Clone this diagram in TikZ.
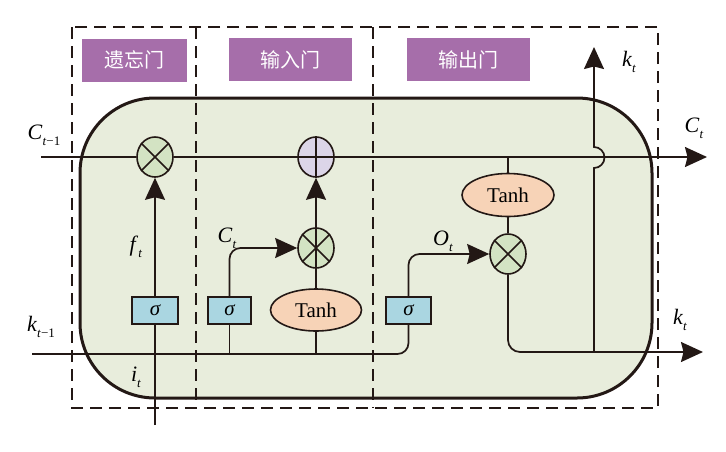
\documentclass[tikz,border=0pt]{standalone}
\usepackage{fontspec}
\setmainfont{Liberation Serif}
\newfontfamily\cjk{Noto Sans CJK SC}
\usetikzlibrary{shapes.geometric,arrows.meta,calc}
\definecolor{ink}{HTML}{231815}
\definecolor{gatepurple}{HTML}{A66EAA}
\definecolor{cellgreen}{HTML}{E8EDDC}
\definecolor{opgreen}{HTML}{D3E3C3}
\definecolor{oppurple}{HTML}{DCD5E8}
\definecolor{tanhfill}{HTML}{F7D3B7}
\definecolor{sigfill}{HTML}{AAD6E1}
\newcommand{\vlab}[2]{\textit{#1}\raisebox{-0.55ex}{\fontsize{13}{13}\selectfont #2}}
\begin{document}
\begin{tikzpicture}[x=1pt,y=-1pt,
  line/.style={draw=ink,line width=1.7pt},
  arr/.style={line,-{Stealth[length=22pt,width=20pt,inset=2.5pt]}},
  dashbox/.style={draw=ink,line width=1.2pt,dash pattern=on 12pt off 7pt},
  gatelabel/.style={fill=gatepurple,text=white,font=\cjk\fontsize{20}{20}\selectfont,minimum height=43pt,inner sep=0pt},
  opnode/.style={ellipse,draw=ink,line width=1.6pt,fill=opgreen,minimum width=36pt,minimum height=40pt,inner sep=0pt},
  tanhnode/.style={ellipse,draw=ink,line width=1.6pt,fill=tanhfill,minimum width=91pt,minimum height=42pt,inner sep=0pt,font=\fontsize{21}{21}\selectfont},
  signode/.style={rectangle,draw=ink,line width=1.6pt,fill=sigfill,minimum height=27pt,inner sep=0pt,font=\fontsize{21}{21}\selectfont\itshape},
  lab/.style={font=\fontsize{22}{22}\selectfont,inner sep=0pt}
]
\useasboundingbox (0,0) rectangle (726,451);
% cell body
\draw[fill=cellgreen,draw=ink,line width=3pt,rounded corners=75pt] (80,98) rectangle (652,398);
% dashed gate regions
\draw[dashbox] (72,27) rectangle (658,408);
\draw[dashbox] (196,27) -- (196,408);
\draw[dashbox] (373,27) -- (373,408);
% gate titles
\node[gatelabel,minimum width=105pt] (g1) at (134.5,60) {遗忘门};
\node[gatelabel,minimum width=123pt] (g2) at (290.5,59.5) {输入门};
\node[gatelabel,minimum width=123pt] (g3) at (468.5,59.5) {输出门};
% operator nodes
\node[opnode] (f) at (155,157) {};
\node[opnode,fill=oppurple] (p) at (316,157) {};
\node[opnode] (i) at (316,248) {};
\node[opnode] (o) at (508,254) {};
\node[tanhnode] (ti) at (316,310) {Tanh};
\node[tanhnode,minimum width=92pt,minimum height=43pt] (to) at (508,195) {Tanh};
\node[signode,minimum width=46pt] (s1) at (155,310.5) {σ};
\node[signode,minimum width=43pt] (s2) at (229.5,310.5) {σ};
\node[signode,minimum width=45pt] (s3) at (408.5,310.5) {σ};
% operator symbols
\draw[line] (f.45) -- (f.225) (f.135) -- (f.315);
\draw[line] (i.45) -- (i.225) (i.135) -- (i.315);
\draw[line] (o.45) -- (o.225) (o.135) -- (o.315);
\draw[line] (p.north) -- (p.south) (p.east) -- (p.west);
% coordinates
\coordinate (cin) at (41,157);
\coordinate (cout) at (707,157);
\coordinate (ctap) at (508,157);
\coordinate (kin) at (32,354);
\coordinate (kout) at (703,352);
\coordinate (itin) at (155,425);
\coordinate (k2) at (229.5,354);
\coordinate (k3) at (316,354);
\coordinate (kup0) at (594,352);
\coordinate (kupj) at (594,168);
\coordinate (kupt) at (594,47);
% cell state line
\draw[line] (cin) -- (f.west);
\draw[line] (f.east) -- (p.west);
\draw[arr] (p.east) -- (cout);
% input line
\draw[line,rounded corners=11pt] (kin) -| (s3.south);
% forget gate
\draw[line] (itin) -- (s1.south);
\draw[arr] (s1.north) -- (f.south);
% input gate
\draw[line] (k2) -- (s2.south);
\draw[arr,rounded corners=11pt] (s2.north) |- (i.west);
\draw[line] (k3) -- (ti.south);
\draw[line] (ti.north) -- (i.north);
\draw[arr] (i.north) -- (p.south);
% output gate
\draw[arr,rounded corners=11pt] (s3.north) |- (o.west);
\draw[line] (ctap) -- (to.north);
\draw[line] (to.south) -- (o.north);
\draw[arr,rounded corners=12pt] (o.south) |- (kout);
% k_t upward with jump
\draw[arr] (kup0) -- (kupj) arc[start angle=-90,end angle=90,radius=10.5pt] -- (kupt);
% labels
\node[lab] (lcin) at (44,135) {\vlab{C}{\textit{t}−1}};
\node[lab] (lcout) at (694,128) {\vlab{C}{\textit{t}}};
\node[lab] (lktop) at (629,62) {\vlab{k}{\textit{t}}};
\node[lab] (lkout) at (680,320) {\vlab{k}{\textit{t}}};
\node[lab] (lkin) at (41,327) {\vlab{k}{\textit{t}−1}};
\node[lab] (lft) at (136,247) {\vlab{f}{\textit{t}}};
\node[lab] (lit) at (136,377) {\vlab{i}{\textit{t}}};
\node[lab] (lct) at (227,238) {\vlab{C}{\textit{t}}};
\node[lab] (lot) at (443,241) {\vlab{O}{\textit{t}}};
\end{tikzpicture}
\end{document}
